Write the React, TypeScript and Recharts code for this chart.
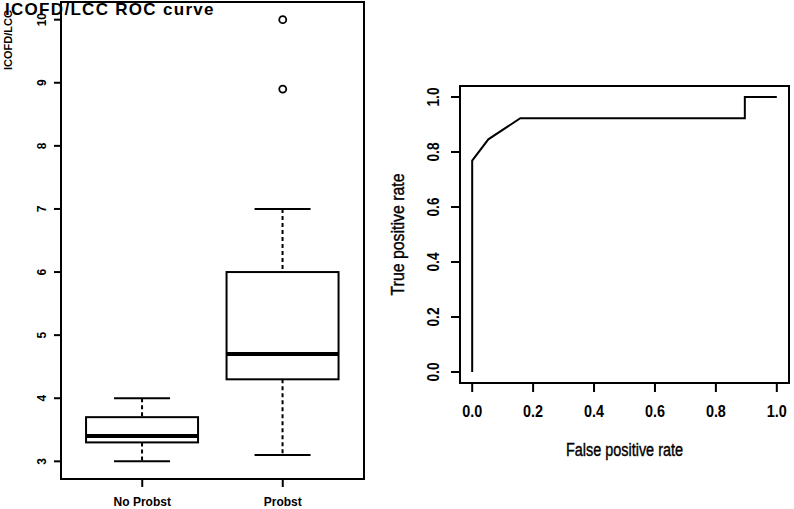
import React from 'react';
import { ComposedChart, LineChart, Line, Bar, Scatter, XAxis, YAxis, Label } from 'recharts';

// boxplot summary per group
const groups = ['No Probst', 'Probst'];
const whiskerLow = [3.0, 3.1];
const quartile1 = [3.3, 4.3];
const medians = [3.4, 4.7];
const quartile3 = [3.7, 6.0];
const whiskerHigh = [4.0, 7.0];
const outlierGroups = ['Probst', 'Probst'];
const outlierValues = [10.0, 8.9];
const leftTicks = [3, 4, 5, 6, 7, 8, 9, 10];

// ROC curve
const fpr = [0, 0, 0.053, 0.158, 0.895, 0.895, 1.0];
const tpr = [0, 0.769, 0.846, 0.923, 0.923, 1.0, 1.0];
const rocTicks = [0, 0.2, 0.4, 0.6, 0.8, 1.0];

const boxData = groups.map((g, i) => ({
  group: g,
  lo: whiskerLow[i],
  q1: quartile1[i],
  med: medians[i],
  q3: quartile3[i],
  hi: whiskerHigh[i],
}));
const outlierData = outlierGroups.map((g, i) => ({ group: g, value: outlierValues[i] }));
const rocData = fpr.map((x, i) => ({ fpr: x, tpr: tpr[i] }));

const SANS = "'Liberation Sans', Arial, sans-serif";

const BoxShape = (props: any) => {
  const { x, y, width, height, payload } = props;
  const { lo, q1, med, q3, hi } = payload;
  // map value to pixel using the bar's own lo..hi extent
  const pix = (v: number) => y + (height * (hi - v)) / (hi - lo);
  const cx = x + width / 2;
  const cap = width / 4;
  return (
    <g stroke="#000" fill="none">
      <line x1={cx} x2={cx} y1={pix(hi)} y2={pix(q3)} strokeWidth={2} strokeDasharray="4 3" />
      <line x1={cx} x2={cx} y1={pix(q1)} y2={pix(lo)} strokeWidth={2} strokeDasharray="4 3" />
      <line x1={cx - cap} x2={cx + cap} y1={pix(hi)} y2={pix(hi)} strokeWidth={2} />
      <line x1={cx - cap} x2={cx + cap} y1={pix(lo)} y2={pix(lo)} strokeWidth={2} />
      <rect x={x} y={pix(q3)} width={width} height={pix(q1) - pix(q3)} fill="#fff" strokeWidth={2} />
      <line x1={x} x2={x + width} y1={pix(med)} y2={pix(med)} strokeWidth={4} />
    </g>
  );
};

// rotated y tick label (R style, reads bottom to top)
const RotTick = (props: any) => {
  const { x, y, payload, fontSize, squeeze } = props;
  const label = squeeze ? payload.value.toFixed(1) : String(payload.value);
  return (
    <text
      x={x}
      y={y}
      transform={`rotate(-90, ${x}, ${y})`}
      textAnchor="middle"
      fontSize={fontSize}
      fontWeight="bold"
      fontFamily={SANS}
      fill="#000"
      textLength={squeeze}
      lengthAdjust={squeeze ? 'spacingAndGlyphs' : undefined}
    >
      {label}
    </text>
  );
};

const NarrowXTick = (props: any) => {
  const { x, y, payload } = props;
  return (
    <text
      x={x}
      y={y}
      dy="0.71em"
      textAnchor="middle"
      fontSize={16}
      fontWeight="bold"
      fontFamily={SANS}
      fill="#000"
      textLength={20}
      lengthAdjust="spacingAndGlyphs"
    >
      {payload.value.toFixed(1)}
    </text>
  );
};

const Frame = ({ left, top, width, height }: any) => (
  <div
    style={{
      position: 'absolute',
      left,
      top,
      width,
      height,
      border: '2px solid #000',
      boxSizing: 'border-box',
      pointerEvents: 'none',
    }}
  />
);

export default function App() {
  return (
    <div style={{ position: 'fixed', left: 0, top: 0, width: 794, height: 509, background: '#fff', overflow: 'hidden' }}>
      <div style={{ position: 'absolute', left: 0, top: 0 }}>
        <ComposedChart width={380} height={509} data={boxData} margin={{ top: 2, right: 16, bottom: 0, left: 0 }} barCategoryGap="10%">
          <XAxis
            dataKey="group"
            type="category"
            allowDuplicatedCategory={false}
            padding={{ left: 11, right: 11 }}
            height={30}
            axisLine={false}
            tickLine={{ stroke: '#000', strokeWidth: 2 }}
            tickSize={8}
            tickMargin={10}
            tick={{ fill: '#000', fontSize: 12, fontWeight: 'bold', fontFamily: SANS }}
          />
          <YAxis
            type="number"
            domain={[2.72, 10.28]}
            ticks={leftTicks}
            allowDataOverflow
            width={61}
            axisLine={false}
            tickLine={{ stroke: '#000', strokeWidth: 2 }}
            tickSize={7}
            tickMargin={8}
            tick={<RotTick fontSize={12} />}
          >
            <Label
              content={() => (
                <text x={12} y={70} transform="rotate(-90, 12, 70)" fontSize={11} fontWeight="bold" fontFamily={SANS} fill="#000">
                  ICOFD/LCC
                </text>
              )}
            />
          </YAxis>
          <Bar dataKey={(d: any) => [d.lo, d.hi]} shape={<BoxShape />} isAnimationActive={false} />
          <Scatter
            data={outlierData}
            dataKey="value"
            isAnimationActive={false}
            shape={(p: any) => <circle cx={p.cx} cy={p.cy} r={3.5} fill="#fff" stroke="#000" strokeWidth={1.8} />}
          />
        </ComposedChart>
        <Frame left={60} top={1} width={305} height={479} />
      </div>

      <div style={{ position: 'absolute', left: 380, top: 0 }}>
        <LineChart width={414} height={509} data={rocData} margin={{ top: 86, right: 5, bottom: 0, left: 0 }}>
          <XAxis
            dataKey="fpr"
            type="number"
            domain={[-0.04, 1.04]}
            ticks={rocTicks}
            allowDataOverflow
            height={126}
            axisLine={false}
            tickLine={{ stroke: '#000', strokeWidth: 2 }}
            tickSize={9}
            tickMargin={14}
            tick={<NarrowXTick />}
          >
            <Label
              content={(p: any) => (
                <text
                  x={p.viewBox.x + p.viewBox.width / 2}
                  y={p.viewBox.y + 73}
                  textAnchor="middle"
                  fontSize={18}
                  fontFamily={SANS}
                  fill="#000"
                  stroke="#000"
                  strokeWidth={0.4}
                  textLength={117}
                  lengthAdjust="spacingAndGlyphs"
                >
                  False  positive rate
                </text>
              )}
            />
          </XAxis>
          <YAxis
            type="number"
            domain={[-0.04, 1.04]}
            ticks={rocTicks}
            allowDataOverflow
            width={80}
            axisLine={false}
            tickLine={{ stroke: '#000', strokeWidth: 2 }}
            tickSize={9}
            tickMargin={12}
            tick={<RotTick fontSize={16} squeeze={19} />}
          >
            <Label
              content={(p: any) => {
                const cy = p.viewBox.y + p.viewBox.height / 2;
                return (
                  <text
                    x={24}
                    y={cy}
                    transform={`rotate(-90, 24, ${cy})`}
                    textAnchor="middle"
                    fontSize={18}
                    fontFamily={SANS}
                    fill="#000"
                    stroke="#000"
                    strokeWidth={0.4}
                    textLength={122}
                    lengthAdjust="spacingAndGlyphs"
                  >
                    True  positive rate
                  </text>
                );
              }}
            />
          </YAxis>
          <Line dataKey="tpr" type="linear" stroke="#000" strokeWidth={2} dot={false} isAnimationActive={false} />
        </LineChart>
        <Frame left={79} top={85} width={331} height={299} />
      </div>

      <div
        style={{
          position: 'absolute',
          left: 5,
          top: 1,
          fontFamily: SANS,
          fontWeight: 'bold',
          fontSize: 17,
          letterSpacing: '1.3px',
          lineHeight: '17px',
          color: '#000',
          whiteSpace: 'nowrap',
        }}
      >
        ICOFD/LCC ROC curve
      </div>
    </div>
  );
}
